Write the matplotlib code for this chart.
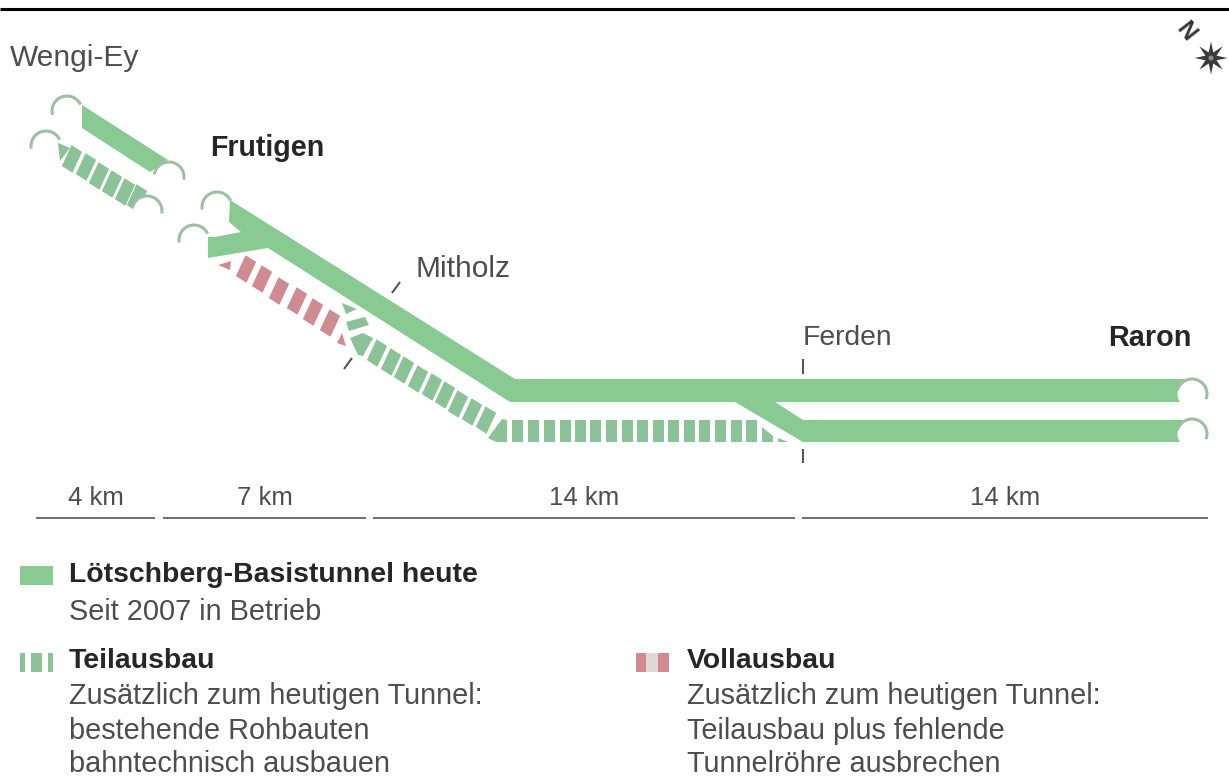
import numpy as np
import matplotlib
matplotlib.use("Agg")
import matplotlib.pyplot as plt
from matplotlib.patches import Polygon, Circle, Arc, Rectangle

plt.rcParams["font.family"] = ["Liberation Sans", "DejaVu Sans"]

W, H = 1229, 778
GREEN = "#89c992"
GREEN_D = "#8cc297"
RED = "#d08b92"
ARC = "#9dbfa4"
TXT = "#4d4d4d"
BOLD = "#262626"

# solid tunnel tubes (picture px)
tube_top = [(82, 105), (168, 160), (150, 172), (82, 128)]
tube_main = [(230, 200), (515, 379), (1190, 379), (1190, 402), (510, 402), (268, 248),
             (208, 258), (208, 237), (215, 237), (241, 232), (229, 222)]
tube_low = [(735, 402), (775, 402), (803, 420), (1190, 420), (1190, 442), (803, 442)]

# dashed pieces: centres of the short bars
teil_a = [(72, 159), (86, 167), (99, 176), (112, 184), (125, 192), (137, 198)]
teil_b = [(377, 353), (391, 362), (404, 370), (418, 379), (432, 387), (445, 395),
          (458, 404), (472, 412), (486, 420)]
voll = [(246, 269), (262, 279), (279, 291), (297, 301), (313, 312), (330, 323)]
teil_h_x = [517, 533, 549, 565, 580, 595, 611, 627, 642, 658, 673, 689, 704, 720, 736, 751]

# odd shaped bits around the crossover
green_bits = [
    [(58, 143), (70, 148), (60, 161)],
    [(342, 303), (357, 309), (346, 314)],
    [(346, 322), (365, 317), (369, 325), (349, 331)],
    [(350, 338), (363, 333), (373, 338), (363, 356), (358, 355)],
    [(488, 438), (502, 419), (507, 420), (507, 442), (496, 442)],
    [(762, 427), (773, 436), (773, 442), (762, 442)],
    [(778, 438), (788, 442), (778, 442)],
]
red_bits = [
    [(218, 265), (231, 261), (230, 270)],
    [(337, 343), (342, 333), (346, 346)],
]

# portals: cx, cy, start angle, end angle (deg, y axis is flipped)
portals = [(67, 111, 165, 335), (169, 177, 190, 370), (46, 146, 170, 335), (147, 211, 190, 370),
           (217, 207, 170, 335), (194, 240, 170, 335), (1192, 394, 195, 380), (1192, 434, 195, 380)]
bitten = [(147, 211), (1192, 394), (1192, 434)]

ticks = [((392, 293), (400, 282)), ((344, 369), (352, 358)), ((803, 359), (803, 374)), ((803, 449), (803, 463))]

scale_labels = ["4 km", "7 km", "14 km", "14 km"]
scale_spans = [(36, 155), (163, 366), (373, 795), (802, 1208)]

place_labels = [("Wengi-Ey", 10, 58, False, 21.5), ("Frutigen", 210, 148, True, 20.6),
                ("Mitholz", 415, 269, False, 21.5), ("Ferden", 803, 338, False, 20.3),
                ("Raron", 1108, 338, True, 20.8)]

legend_left = [("Lötschberg-Basistunnel heute", 69, 575, True), ("Seit 2007 in Betrieb", 69, 612, False),
               ("Teilausbau", 69, 661, True), ("Zusätzlich zum heutigen Tunnel:", 69, 696, False),
               ("bestehende Rohbauten", 69, 731, False), ("bahntechnisch ausbauen", 69, 764, False)]
legend_right = [("Vollausbau", 687, 661, True), ("Zusätzlich zum heutigen Tunnel:", 687, 696, False),
                ("Teilausbau plus fehlende", 687, 731, False), ("Tunnelröhre ausbrechen", 687, 764, False)]


def bar(ax, cx, cy, color, along=12.5, across=23):
    # short sheared bar: long side leans a bit less than the tube normal
    a = np.radians(32.0)
    b = np.radians(25.0)
    u = np.array([np.cos(a), np.sin(a)]) * along / 2
    v = np.array([-np.sin(b), np.cos(b)]) * across / 2
    c = np.array([cx, cy])
    ax.add_patch(Polygon([c - u - v, c + u - v, c + u + v, c - u + v], fc=color, ec="none"))


fig = plt.figure(figsize=(W / 100, H / 100), dpi=100)
ax = fig.add_axes([0, 0, 1, 1])
ax.set_xlim(0, W)
ax.set_ylim(H, 0)
ax.axis("off")

ax.plot([0, W], [8.5, 8.5], color="black", lw=2.2, solid_capstyle="butt")

for pts in (tube_top, tube_main, tube_low):
    ax.add_patch(Polygon(pts, fc=GREEN, ec="none"))
for pts in green_bits:
    ax.add_patch(Polygon(pts, fc=GREEN_D, ec="none"))
for pts in red_bits:
    ax.add_patch(Polygon(pts, fc=RED, ec="none"))
for cx, cy in teil_a + teil_b:
    bar(ax, cx, cy, GREEN_D)
for cx, cy in voll:
    bar(ax, cx, cy, RED)
for x in teil_h_x:
    ax.add_patch(Rectangle((x - 5.5, 420), 11, 22, fc=GREEN_D, ec="none"))

# white bite out of the tube where needed, then the thin arc
for cx, cy, a0, a1 in portals:
    if (cx, cy) in bitten:
        ax.add_patch(Circle((cx, cy), 14.5, fc="white", ec="none", zorder=3))
    ax.add_patch(Arc((cx, cy), 30, 30, theta1=a0, theta2=a1, color=ARC, lw=2.2, zorder=4))

for p0, p1 in ticks:
    ax.plot([p0[0], p1[0]], [p0[1], p1[1]], color="#555555", lw=1.5, solid_capstyle="butt")

for lab, (x0, x1) in zip(scale_labels, scale_spans):
    ax.plot([x0, x1], [518, 518], color="#555555", lw=1.2, solid_capstyle="butt")
    ax.text((x0 + x1) / 2, 498, lab, ha="center", va="center", fontsize=18.5, color=TXT)

for s, x, y, b, fs in place_labels:
    ax.text(x, y, s, ha="left", va="center", fontsize=fs,
            fontweight="bold" if b else "normal", color=BOLD if b else TXT)

for s, x, y, b in legend_left + legend_right:
    ax.text(x, y, s, ha="left", va="center", fontsize=20.4 if b else 20.8,
            fontweight="bold" if b else "normal", color=BOLD if b else TXT)

# legend swatches
ax.add_patch(Rectangle((20, 566), 33, 19, fc=GREEN, ec="none"))
for x in (20, 31, 48):
    ax.add_patch(Rectangle((x, 653), 11 if x == 31 else 5, 19, fc=GREEN_D, ec="none"))
for x, w, c in ((636, 10, RED), (646, 12, "#dfd9d6"), (658, 11, RED)):
    ax.add_patch(Rectangle((x, 653), w, 19, fc=c, ec="none"))

# north star
ang = np.radians(np.arange(0, 360, 22.5))
rad = np.where(np.arange(16) % 2 == 0, 16.5, 6.0)
ax.add_patch(Polygon(np.c_[1211 + rad * np.cos(ang), 58 + rad * np.sin(ang)], fc="#3a3a3a", ec="none"))
ax.add_patch(Circle((1211, 58), 2.5, fc="#8a8a8a", ec="none", zorder=3))
ax.text(1186, 32, "N", rotation=-52, ha="center", va="center", fontsize=17, fontweight="bold", color="#333333")

fig.savefig("out.png", dpi=100)
